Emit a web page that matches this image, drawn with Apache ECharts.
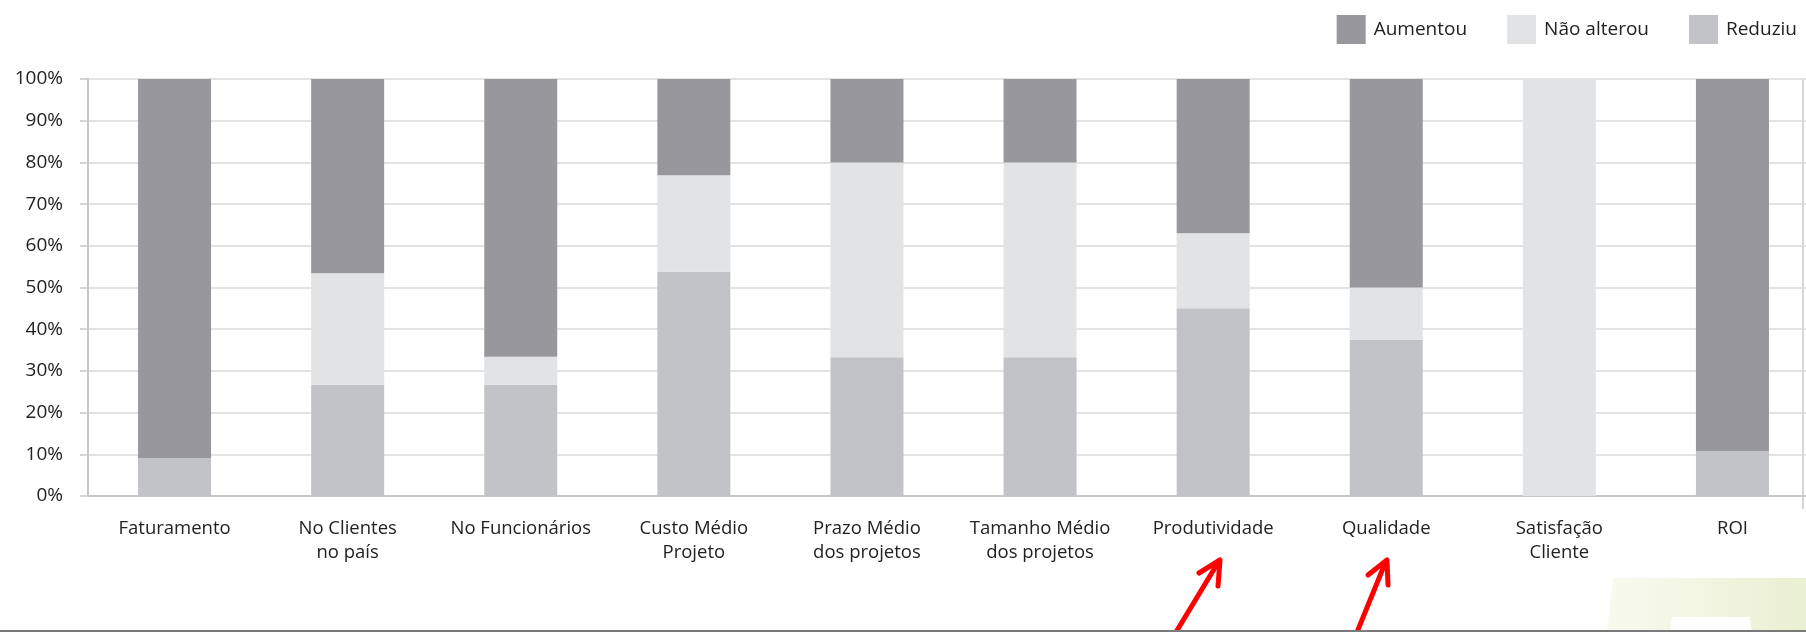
<!DOCTYPE html>
<html>
    <head>
        <meta charset="utf-8">
        <title></title>
        <style>
            html, body{
                margin: 0;
                padding: 0;
                background: #fff;
            }
            #div{
                width: 1806px;
                height: 632px;
            }
        </style>
    </head>
    <body>
        <div id="div"></div>
        <script src="https://cdn.jsdelivr.net/npm/echarts@6/dist/echarts.min.js"></script>
        <script>
            // categorias e percentuais
            var categorias = ['Faturamento', 'No Clientes\nno país', 'No Funcionários', 'Custo Médio\nProjeto',
                'Prazo Médio\ndos projetos', 'Tamanho Médio\ndos projetos', 'Produtividade', 'Qualidade',
                'Satisfação\nCliente', 'ROI'];
            var reduziu     = [9.1, 26.7, 26.7, 53.8, 33.3, 33.3, 45, 37.5, 0, 10.8];
            var naoAlterou  = [0, 26.7, 6.7, 23.1, 46.7, 46.7, 18, 12.5, 100, 0];
            var aumentou    = [90.9, 46.6, 66.6, 23.1, 20, 20, 37, 50, 0, 89.2];
            var yTicks = [0, 10, 20, 30, 40, 50, 60, 70, 80, 90, 100];

            var chartDom = document.getElementById('div');
            var myChart = echarts.init(chartDom);
            var option;

            var fonte = 'Open Sans';

            option = {
                animation: false,
                textStyle: { fontFamily: fonte },
                legend: {
                    data: ['Aumentou', 'Não alterou', 'Reduziu'],
                    right: 4,
                    top: 10,
                    icon: 'rect',
                    itemWidth: 29,
                    itemHeight: 29,
                    itemGap: 40,
                    textStyle: { fontSize: 19, color: '#222', fontFamily: fonte, padding: [0, 0, 0, 3] }
                },
                grid: {
                    left: 88,
                    top: 79,
                    right: -13,
                    bottom: 136,
                    outerBoundsMode: 'none'
                },
                xAxis: {
                    type: 'category',
                    data: categorias,
                    axisLine: { lineStyle: { color: '#c8c8c8', width: 2 } },
                    axisTick: { length: 13, lineStyle: { color: '#c8c8c8', width: 1.5 } },
                    axisLabel: {
                        interval: 0,
                        color: '#222',
                        fontSize: 18.5,
                        lineHeight: 24,
                        margin: 21,
                        fontFamily: fonte
                    }
                },
                yAxis: {
                    type: 'value',
                    min: yTicks[0],
                    max: yTicks[yTicks.length - 1],
                    interval: 10,
                    axisLine: { show: true, lineStyle: { color: '#c8c8c8', width: 2 } },
                    axisTick: { show: true, length: 8, lineStyle: { color: '#c8c8c8', width: 1.5 } },
                    axisLabel: {
                        formatter: '{value}%',
                        color: '#222',
                        fontSize: 19,
                        margin: 25,
                        fontFamily: fonte
                    },
                    splitLine: { lineStyle: { color: '#dadada', width: 1.5 } }
                },
                series: [
                    {
                        name: 'Reduziu',
                        type: 'bar',
                        stack: 'total',
                        barWidth: 73,
                        data: reduziu,
                        itemStyle: { color: '#c2c3c6' }
                    },
                    {
                        name: 'Não alterou',
                        type: 'bar',
                        stack: 'total',
                        barWidth: 73,
                        data: naoAlterou,
                        itemStyle: { color: '#e2e3e5' }
                    },
                    {
                        name: 'Aumentou',
                        type: 'bar',
                        stack: 'total',
                        barWidth: 73,
                        data: aumentou,
                        itemStyle: { color: '#98979b' }
                    }
                ],
                // enfeites do slide: borda direita, setas vermelhas, faixa verde e linha de baixo
                graphic: [
                    {
                        type: 'line',
                        shape: { x1: 1803, y1: 79, x2: 1803, y2: 509 },
                        style: { stroke: '#c8c8c8', lineWidth: 1.5 }
                    },
                    {
                        type: 'polygon',
                        shape: { points: [[1607, 632], [1613, 578], [1806, 578], [1806, 632]] },
                        style: {
                            fill: new echarts.graphic.LinearGradient(0, 0, 1, 0, [
                                { offset: 0, color: '#f8faef' },
                                { offset: 1, color: '#eaf0d2' }
                            ])
                        }
                    },
                    {
                        type: 'polygon',
                        shape: { points: [[1670, 632], [1672, 617], [1750, 617], [1752, 632]] },
                        style: { fill: '#ffffff' }
                    },
                    {
                        type: 'polyline',
                        shape: { points: [[1170, 642], [1219, 561]] },
                        style: { stroke: '#ff0000', lineWidth: 5, lineCap: 'round' }
                    },
                    {
                        type: 'polyline',
                        shape: { points: [[1199, 573], [1220, 560], [1218, 586]] },
                        style: { stroke: '#ff0000', lineWidth: 5, lineCap: 'round', lineJoin: 'round', fill: null }
                    },
                    {
                        type: 'polyline',
                        shape: { points: [[1353, 642], [1386, 561]] },
                        style: { stroke: '#ff0000', lineWidth: 5, lineCap: 'round' }
                    },
                    {
                        type: 'polyline',
                        shape: { points: [[1368, 575], [1387, 560], [1388, 585]] },
                        style: { stroke: '#ff0000', lineWidth: 5, lineCap: 'round', lineJoin: 'round', fill: null }
                    },
                    {
                        type: 'line',
                        shape: { x1: 0, y1: 631, x2: 1806, y2: 631 },
                        style: { stroke: '#7a7a7a', lineWidth: 2 }
                    }
                ]
            };

            option && myChart.setOption(option);
        </script>
    </body>
</html>
